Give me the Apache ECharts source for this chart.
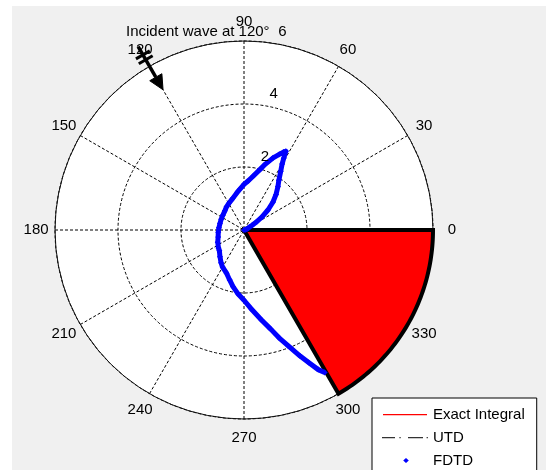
<!DOCTYPE html>
<html><head><meta charset="utf-8">
<script src="https://cdn.jsdelivr.net/npm/echarts@6/dist/echarts.min.js"></script>
<style>
html,body{margin:0;padding:0;background:#fff;width:546px;height:470px;overflow:hidden}
#c{position:absolute;left:12px;top:6px;width:534px;height:500px}
</style></head><body><div id="c"></div>
<script>
const FONT = "'Liberation Sans', Arial, Helvetica, sans-serif";

// ---- data ----
const angleTicks = [0, 30, 60, 90, 120, 150, 180, 210, 240, 270, 300, 330];
const ringTicks = [2, 4, 6];
const thetaDeg = [0, 10, 20, 25, 28, 30, 33, 36, 40, 44, 48, 52, 55, 58, 60, 61, 62, 63, 65, 68, 72, 75, 80, 85, 90, 96, 100, 110, 120, 127, 135, 145, 155, 165, 175, 185, 195, 205, 215, 220, 228, 235, 240, 248, 254, 259, 265, 270, 275, 281, 285, 288, 291, 294, 296, 298, 299.5];
const fdtdR    = [0, 0.05, 0.1, 0.15, 0.2, 0.3, 0.48, 0.7, 1.0, 1.28, 1.52, 1.75, 1.93, 2.2, 2.42, 2.6, 2.83, 2.78, 2.65, 2.47, 2.2, 2.0, 1.75, 1.57, 1.45, 1.3, 1.22, 1.06, 0.97, 0.92, 0.86, 0.82, 0.8, 0.79, 0.8, 0.82, 0.85, 0.92, 0.99, 1.02, 1.14, 1.27, 1.36, 1.48, 1.65, 1.83, 2.05, 2.23, 2.5, 2.91, 3.25, 3.6, 3.95, 4.38, 4.68, 5.02, 5.2];
const exactR   = fdtdR.slice();   // overlaps FDTD in the reference
const utdR     = fdtdR.slice();   // overlaps FDTD in the reference
const wedge = [[6, 300, 360]];    // radius, start angle, end angle
const incident = [[6.72, 120]];   // incident wave direction
const titleText = 'Incident wave at 120\u00b0';
const seriesNames = ['Exact Integral', 'UTD', 'FDTD'];
const rMax = 6;

const pairs = (rs) => rs.map((r, i) => [r, thetaDeg[i]]);

// legend icons (46 x 14 boxes)
const box = 'M0,0h0.01v0.01h-0.01zM45.99,13.99h0.01v0.01h-0.01z';
const iconLine = 'path://' + box + 'M1,6.4h44v1.3h-44z';
const iconDash = 'path://' + box + 'M0,6.4h13v1.3h-13zM17.4,6.4h1.3v1.3h-1.3zM26,6.4h15v1.3h-15zM44.6,6.4h1.3v1.3h-1.3z';
const iconDot = 'path://' + box + 'M24,4.4l2.8,2.6l-2.8,2.6l-2.8,-2.6z';

const chart = echarts.init(document.getElementById('c'), null, {renderer: 'canvas'});
chart.setOption({
  animation: false,
  backgroundColor: '#f0f0f0',
  textStyle: {fontFamily: FONT},
  polar: {center: [232, 224], radius: 189},
  angleAxis: {
    type: 'value', min: 0, max: 360, interval: 30, startAngle: 0, clockwise: false,
    axisLine: {show: true, lineStyle: {color: '#111', width: 1}},
    axisTick: {show: false}, axisLabel: {show: false},
    splitLine: {show: true, lineStyle: {color: '#000', width: 1, type: [3, 2]}}
  },
  radiusAxis: {
    type: 'value', min: 0, max: rMax, interval: 2,
    axisLine: {show: false}, axisTick: {show: false}, axisLabel: {show: false},
    splitLine: {show: true, lineStyle: {color: '#000', width: 1, type: [3, 2]}},
    splitArea: {show: false}
  },
  legend: {
    orient: 'vertical', left: 360, top: 392,
    padding: [9, 12, 12, 10],
    itemWidth: 46, itemHeight: 14, itemGap: 8,
    backgroundColor: '#fff', borderColor: '#000', borderWidth: 1, borderRadius: 0,
    itemStyle: {borderWidth: 0},
    textStyle: {fontSize: 15, color: '#000', fontFamily: FONT},
    data: [
      {name: seriesNames[0], icon: iconLine},
      {name: seriesNames[1], icon: iconDash},
      {name: seriesNames[2], icon: iconDot}
    ]
  },
  graphic: [{
    type: 'text', left: 114, top: 18, z: 100,
    style: {text: titleText, fontSize: 15, fontFamily: FONT, fill: '#000'}
  }],
  series: [
    {
      // white plot disk, under the grid
      type: 'custom', coordinateSystem: 'polar', z: -10, silent: true,
      data: [[rMax, 0]],
      renderItem: function (params, api) {
        const c = api.coord([0, 0]);
        const e = api.coord([api.value(0), api.value(1)]);
        return {type: 'circle', shape: {cx: c[0], cy: c[1], r: Math.hypot(e[0] - c[0], e[1] - c[1])},
          style: {fill: '#fff'}};
      }
    },
    {
      type: 'custom', coordinateSystem: 'polar', z: 2, silent: true,
      data: wedge,
      renderItem: function (params, api) {
        const r = api.value(0), a0 = api.value(1), a1 = api.value(2);
        const pts = [api.coord([0, a0])];
        for (let a = a0; a <= a1 + 1e-9; a += 1) pts.push(api.coord([r, a]));
        return {type: 'polygon', shape: {points: pts},
          style: {fill: '#ff0000', stroke: '#000', lineWidth: 4, lineJoin: 'miter'}};
      }
    },
    {
      name: seriesNames[0], type: 'line', coordinateSystem: 'polar', z: 3,
      data: pairs(exactR), showSymbol: false, symbol: 'none', color: '#ff0000',
      lineStyle: {color: '#ff0000', width: 1}
    },
    {
      name: seriesNames[1], type: 'line', coordinateSystem: 'polar', z: 3,
      data: pairs(utdR), showSymbol: false, symbol: 'none', color: '#333',
      lineStyle: {color: '#333', width: 1, type: [8, 3, 2, 3]}
    },
    {
      name: seriesNames[2], type: 'line', coordinateSystem: 'polar', z: 4,
      data: pairs(fdtdR), color: '#0000ff',
      symbol: 'diamond', symbolSize: 6, showSymbol: true, showAllSymbol: true,
      itemStyle: {color: '#0000ff'},
      lineStyle: {color: '#0000ff', width: 5, join: 'round'}
    },
    {
      type: 'custom', coordinateSystem: 'polar', z: 6, silent: true,
      data: angleTicks.map(a => [6.6, a]),
      renderItem: function (params, api) {
        const p = api.coord([api.value(0), api.value(1)]);
        return {type: 'text', x: p[0], y: p[1],
          style: {text: String(api.value(1)), fontSize: 15, fontFamily: FONT, fill: '#000',
            align: 'center', verticalAlign: 'middle'}};
      }
    },
    {
      type: 'custom', coordinateSystem: 'polar', z: 6, silent: true,
      data: ringTicks.map(v => [v, 82]),
      renderItem: function (params, api) {
        const p = api.coord([api.value(0), api.value(1)]);
        return {type: 'text', x: p[0] + 8, y: p[1] - 11,
          style: {text: String(api.value(0)), fontSize: 15, fontFamily: FONT, fill: '#000',
            align: 'left', verticalAlign: 'middle'}};
      }
    },
    {
      type: 'custom', coordinateSystem: 'polar', z: 7, silent: true,
      data: incident,
      renderItem: function (params, api) {
        const rT = api.value(0), a = api.value(1);
        const tail = api.coord([rT, a]);
        const base = api.coord([5.6, a]);
        const tip = api.coord([5.14, a]);
        const dx = tip[0] - tail[0], dy = tip[1] - tail[1];
        const L = Math.hypot(dx, dy);
        const ux = dx / L, uy = dy / L, px = -uy, py = ux;
        const bar = (r, h) => {
          const c = api.coord([r, a]);
          return {type: 'line', shape: {x1: c[0] - px * h, y1: c[1] - py * h, x2: c[0] + px * h, y2: c[1] + py * h},
            style: {stroke: '#000', lineWidth: 3}};
        };
        const hw = 7;
        return {type: 'group', children: [
          {type: 'line', shape: {x1: tail[0], y1: tail[1], x2: base[0], y2: base[1]}, style: {stroke: '#000', lineWidth: 3.5}},
          {type: 'polygon', shape: {points: [[base[0] + px * hw, base[1] + py * hw], [tip[0], tip[1]], [base[0] - px * hw, base[1] - py * hw]]},
            style: {fill: '#000', stroke: '#000', lineWidth: 1}},
          bar(6.42, 8), bar(6.24, 8)
        ]};
      }
    }
  ]
});
</script></body></html>
